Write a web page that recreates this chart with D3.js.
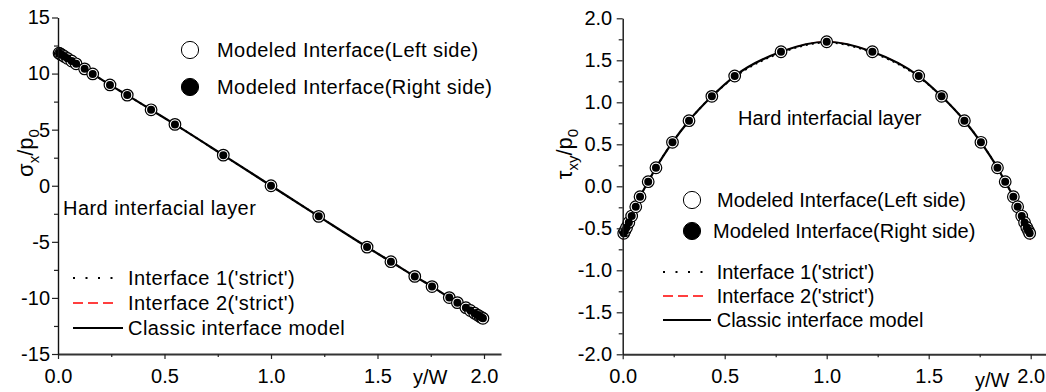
<!DOCTYPE html>
<html>
<head>
<meta charset="utf-8">
<script src="https://cdn.jsdelivr.net/npm/d3@7"></script>
<style>
  body { margin: 0; background: #fff; }
  svg { display: block; font-family: Arial, "Liberation Sans", sans-serif; }
</style>
</head>
<body>
<svg id="chart" width="1046" height="392"></svg>
<script>
// positions along the interface (y/W), shared by all marker series
const yW = [0.005, 0.011, 0.019, 0.03, 0.044, 0.064, 0.085, 0.125, 0.163, 0.244, 0.325, 0.437, 0.549, 0.776, 1.0,
  1.224, 1.451, 1.563, 1.675, 1.756, 1.837, 1.875, 1.915, 1.936, 1.956, 1.97, 1.981, 1.989, 1.995];

// sigma_x / p0, modeled interface (left and right side coincide)
const sigmaLeftSide = [11.82, 11.75, 11.66, 11.53, 11.36, 11.12, 10.87, 10.42, 9.97, 8.99, 8.08, 6.77, 5.47, 2.73, 0.0,
  -2.73, -5.47, -6.77, -8.08, -8.99, -9.97, -10.42, -10.87, -11.12, -11.36, -11.53, -11.66, -11.75, -11.82];
const sigmaRightSide = sigmaLeftSide;

// tau_xy / p0, modeled interface
const tauLeftSide = [-0.56, -0.53, -0.49, -0.43, -0.354, -0.243, -0.124, 0.055, 0.221, 0.524, 0.781, 1.071, 1.313, 1.602, 1.721,
  1.602, 1.313, 1.071, 0.781, 0.524, 0.221, 0.055, -0.124, -0.243, -0.354, -0.43, -0.49, -0.53, -0.56];
const tauRightSide = tauLeftSide;

// curves for the three interface models (they overlap)
const lineYW = [0, 0.044, 0.085, 0.125, 0.163, 0.244, 0.325, 0.437, 0.549, 0.776, 1.0,
  1.224, 1.451, 1.563, 1.675, 1.756, 1.837, 1.875, 1.915, 1.956, 2.0];
const sigmaClassic = [11.9, 11.36, 10.87, 10.42, 9.97, 8.99, 8.08, 6.77, 5.47, 2.73, 0.0,
  -2.73, -5.47, -6.77, -8.08, -8.99, -9.97, -10.42, -10.87, -11.36, -11.9];
const sigmaStrict1 = sigmaClassic;
const sigmaStrict2 = sigmaClassic;
const tauClassic = [-0.6, -0.354, -0.124, 0.055, 0.221, 0.524, 0.781, 1.071, 1.313, 1.602, 1.721,
  1.602, 1.313, 1.071, 0.781, 0.524, 0.221, 0.055, -0.124, -0.354, -0.6];
const tauStrict1 = [-0.6, -0.354, -0.124, 0.055, 0.221, 0.524, 0.781, 1.071, 1.30, 1.59, 1.71,
  1.59, 1.30, 1.071, 0.781, 0.524, 0.221, 0.055, -0.124, -0.354, -0.6];
const tauStrict2 = [-0.64, -0.354, -0.124, 0.055, 0.221, 0.524, 0.781, 1.071, 1.313, 1.602, 1.721,
  1.602, 1.313, 1.071, 0.781, 0.524, 0.221, 0.055, -0.124, -0.354, -0.64];

// tick labels
const xTicks = [0, 0.5, 1.0, 1.5, 2.0];
const xMinor = [0.25, 0.75, 1.25, 1.75];
const sigmaTicks = [-15, -10, -5, 0, 5, 10, 15];
const sigmaMinor = [-12.5, -7.5, -2.5, 2.5, 7.5, 12.5];
const tauTicks = [-2.0, -1.5, -1.0, -0.5, 0.0, 0.5, 1.0, 1.5, 2.0];
const tauMinor = [-1.75, -1.25, -0.75, -0.25, 0.25, 0.75, 1.25, 1.75];

const legendMarks = ['Modeled Interface(Left side)', 'Modeled Interface(Right side)'];
const legendLines = ["Interface 1('strict')", "Interface 2('strict')", 'Classic interface model'];

const svg = d3.select('#chart');

const lineStyles = [
  { stroke: '#000', w: 1.8, dash: '2,10.5' },
  { stroke: '#f00', w: 1.4, dash: '10,5' },
  { stroke: '#000', w: 2.2, dash: null }
];

function panel(cfg) {
  const g = svg.append('g').style('letter-spacing', cfg.spacing + 'px');
  const x = d3.scaleLinear().domain([0, 2.08]).range(cfg.xRange);
  const y = d3.scaleLinear().domain(cfg.yDomain).range(cfg.yRange);

  // lines: red dashed first, black solid on top
  const line = vals => d3.line().curve(d3.curveMonotoneX)
    .x((d, i) => x(lineYW[i])).y(d => y(d))(vals);
  [[cfg.strict2, 1], [cfg.strict1, 0], [cfg.classic, 2]].forEach(([vals, s]) => {
    g.append('path').attr('d', line(vals)).attr('fill', 'none')
      .attr('stroke', lineStyles[s].stroke).attr('stroke-width', s === 1 ? 1 : lineStyles[s].w)
      .attr('stroke-dasharray', s === 0 ? '2,4' : lineStyles[s].dash);
  });

  // markers
  g.append('g').selectAll('circle').data(cfg.left).join('circle')
    .attr('cx', (d, i) => x(yW[i])).attr('cy', d => y(d)).attr('r', 5.8)
    .attr('fill', '#fff').attr('stroke', '#000').attr('stroke-width', 1.2);
  g.append('g').selectAll('circle').data(cfg.right).join('circle')
    .attr('cx', (d, i) => x(yW[i])).attr('cy', d => y(d)).attr('r', 4)
    .attr('fill', '#000');

  // axes
  const xAxis = g.append('g').attr('transform', `translate(0,${cfg.yRange[0]})`)
    .call(d3.axisBottom(x).tickValues(xTicks).tickFormat(d => d.toFixed(1))
      .tickSize(5).tickPadding(10).tickSizeOuter(0));
  g.append('g').attr('transform', `translate(0,${cfg.yRange[0]})`)
    .call(d3.axisBottom(x).tickValues(xMinor).tickFormat('').tickSize(3))
    .call(a => a.select('.domain').remove());
  xAxis.select('.domain').attr('stroke', '#333').attr('stroke-width', 2);

  const yAxis = g.append('g').attr('transform', `translate(${cfg.xRange[0]},0)`)
    .call(d3.axisLeft(y).tickValues(cfg.yTicks).tickFormat(cfg.yFormat)
      .tickSize(6).tickPadding(cfg.yPad).tickSizeOuter(0));
  g.append('g').attr('transform', `translate(${cfg.xRange[0]},0)`)
    .call(d3.axisLeft(y).tickValues(cfg.yMinor).tickFormat('').tickSize(4))
    .call(a => a.select('.domain').remove());
  yAxis.select('.domain').attr('stroke', '#111').attr('stroke-width', 1.4);
  g.selectAll('.tick line').attr('stroke', '#222').attr('stroke-width', 1.2);
  g.selectAll('.tick text').style('font-size', '20px').style('font-family', 'Arial, "Liberation Sans", sans-serif')
    .attr('fill', '#000').style('letter-spacing', '0px');

  // axis titles
  g.append('text').attr('x', cfg.xTitle[0]).attr('y', cfg.xTitle[1])
    .style('font-size', '20px').style('letter-spacing', '0px').text('y/W');
  const yt = g.append('text')
    .attr('transform', `translate(${cfg.yTitle[0]},${cfg.yTitle[1]}) rotate(-90)`)
    .attr('text-anchor', 'middle').style('font-size', '22px').style('letter-spacing', '0px');
  cfg.yParts.forEach(([s, sub], i) => {
    const prevSub = i > 0 && cfg.yParts[i - 1][1];
    yt.append('tspan').text(s)
      .attr('dy', sub && !prevSub ? 6 : (!sub && prevSub ? -6 : 0))
      .style('font-size', sub ? '15px' : null);
  });

  // annotation
  g.append('text').attr('x', cfg.note[0]).attr('y', cfg.note[1])
    .style('font-size', '20px').text('Hard interfacial layer');

  // marker legend
  const lm = cfg.legendMarks;
  legendMarks.forEach((label, i) => {
    const row = g.append('g').attr('transform', `translate(${lm.x},${lm.y[i]})`);
    row.append('circle').attr('r', 8.6)
      .attr('fill', i === 0 ? '#fff' : '#000').attr('stroke', '#000').attr('stroke-width', 1);
    row.append('text').attr('x', lm.tx[i]).attr('dy', '0.35em')
      .style('font-size', '20px').text(label);
  });

  // line legend
  const ll = cfg.legendLines;
  legendLines.forEach((label, i) => {
    const row = g.append('g').attr('transform', `translate(0,${ll.y[i]})`);
    row.append('line').attr('x1', ll.x1).attr('x2', ll.x2[i])
      .attr('stroke', lineStyles[i].stroke).attr('stroke-width', lineStyles[i].w)
      .attr('stroke-dasharray', lineStyles[i].dash);
    row.append('text').attr('x', ll.tx).attr('dy', '0.35em')
      .style('font-size', '20px').text(label);
  });
}

panel({
  spacing: 0.45,
  xRange: [58, 58 + 2.08 * 213],
  yDomain: [-15, 15], yRange: [354, 17.5],
  yTicks: sigmaTicks, yMinor: sigmaMinor, yFormat: d => String(d), yPad: 2,
  classic: sigmaClassic, strict1: sigmaStrict1, strict2: sigmaStrict2,
  left: sigmaLeftSide, right: sigmaRightSide,
  xTitle: [413, 384], yTitle: [33, 153],
  yParts: [['σ', false], ['x', true], ['/p', false], ['0', true]],
  note: [63, 215],
  legendMarks: { x: 190, y: [50, 87], tx: [27, 27] },
  legendLines: { y: [278, 303, 328], x1: 73, x2: [117, 117, 123], tx: 128 }
});

panel({
  spacing: 0,
  xRange: [622.7, 622.7 + 2.08 * 204],
  yDomain: [-2, 2], yRange: [354.3, 18.3],
  yTicks: tauTicks, yMinor: tauMinor, yFormat: d => d.toFixed(1), yPad: 4.5,
  classic: tauClassic, strict1: tauStrict1, strict2: tauStrict2,
  left: tauLeftSide, right: tauRightSide,
  xTitle: [975, 387], yTitle: [572, 154],
  yParts: [['τ', false], ['xy', true], ['/p', false], ['0', true]],
  note: [738, 125],
  legendMarks: { x: 692, y: [200, 231], tx: [25, 21] },
  legendLines: { y: [272, 296, 320], x1: 663, x2: [705, 705, 711], tx: 716.7 }
});
</script>
</body>
</html>
